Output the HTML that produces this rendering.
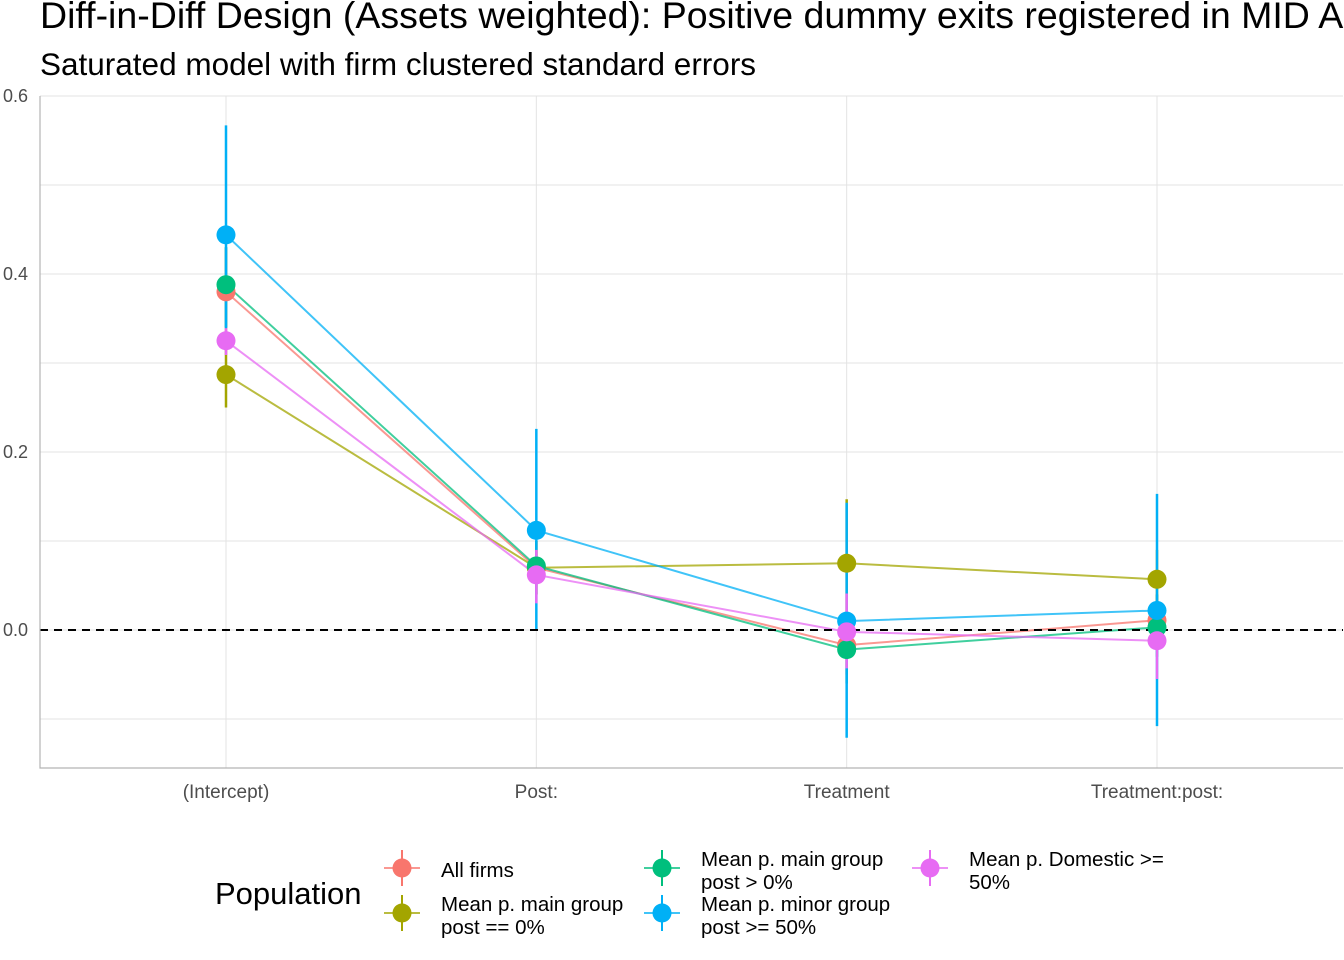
<!DOCTYPE html>
<html><head><meta charset="utf-8"><style>
body{margin:0;background:#fff;}
svg{display:block;font-family:"Liberation Sans",sans-serif;}
</style></head><body>
<svg id="chart" width="1344" height="960">
<text x="40" y="28" font-size="37.5" fill="#000">Diff-in-Diff Design (Assets weighted): Positive dummy exits registered in MID Ac</text>
<text x="40" y="75" font-size="31.5" fill="#000">Saturated model with firm clustered standard errors</text>
<g id="grid"></g>
<g id="marks"></g>
<g id="axes"></g>
<g id="legend">
<text x="215" y="904" font-size="31" fill="#000">Population</text>
</g>
</svg>
<script>
const categories = ["(Intercept)", "Post:", "Treatment", "Treatment:post:"];
const seriesNames = ["All firms", "Mean p. main group post == 0%", "Mean p. main group post > 0%", "Mean p. minor group post >= 50%", "Mean p. Domestic >= 50%"];
const seriesColors = ["#F8766D", "#A3A500", "#00BF7D", "#00B0F6", "#E76BF3"];
const estAll = [0.380, 0.070, -0.017, 0.011];
const estMain0 = [0.287, 0.070, 0.075, 0.057];
const estMainPos = [0.388, 0.072, -0.022, 0.003];
const estMinor = [0.444, 0.112, 0.010, 0.022];
const estDom = [0.325, 0.062, -0.002, -0.012];
const lowAll = [0.33, 0.04, -0.05, -0.02];
const highAll = [0.43, 0.10, 0.02, 0.04];
const lowMain0 = [0.250, 0.04, 0.00, 0.02];
const highMain0 = [0.320, 0.10, 0.147, 0.09];
const lowMainPos = [0.34, 0.04, -0.06, -0.03];
const highMainPos = [0.43, 0.10, 0.02, 0.04];
const lowMinor = [0.339, 0.000, -0.121, -0.108];
const highMinor = [0.567, 0.226, 0.143, 0.153];
const lowDom = [0.309, 0.03, -0.043, -0.055];
const highDom = [0.339, 0.09, 0.041, 0.030];
const yTicks = [0.0, 0.2, 0.4, 0.6];
const yTickLabels = ["0.0", "0.2", "0.4", "0.6"];

const est=[estAll,estMain0,estMainPos,estMinor,estDom];
const low=[lowAll,lowMain0,lowMainPos,lowMinor,lowDom];
const high=[highAll,highMain0,highMainPos,highMinor,highDom];
const L=40,R=1343,T=96,B=768;
const yMin=-0.155,yMax=0.6;
const y=v=>B-(v-yMin)/(yMax-yMin)*(B-T);
const x=i=>226+i*(1157-226)/(categories.length-1);
const NS="http://www.w3.org/2000/svg";
function mk(p,t,a){const e=document.createElementNS(NS,t);for(const k in a)e.setAttribute(k,a[k]);p.appendChild(e);return e;}
const grid=document.getElementById('grid'),marks=document.getElementById('marks'),axes=document.getElementById('axes'),legend=document.getElementById('legend');
for(let v=-0.1;v<=0.6;v+=0.1){const g=mk(grid,'line',{x1:L,x2:R,y1:y(v),y2:y(v),stroke:'#e3e3e3','stroke-width':1});

}
categories.forEach((c,i)=>{const g=mk(grid,'line',{x1:x(i),x2:x(i),y1:T,y2:B,stroke:'#e3e3e3','stroke-width':1});


const t=mk(axes,'text',{x:x(i),y:798,'font-size':19,fill:'#4d4d4d','text-anchor':'middle'});t.textContent=c;

});
yTicks.forEach((v,i)=>{const t=mk(axes,'text',{x:28,y:y(v)+6,'font-size':18,fill:'#4d4d4d','text-anchor':'end'});t.textContent=yTickLabels[i];

});
const ax=mk(axes,'path',{d:`M${L} ${T}V${B}H${R}`,fill:'none',stroke:'#b3b3b3','stroke-width':1.2});


est.forEach((s,k)=>{s.forEach((v,i)=>{const e=mk(marks,'line',{x1:x(i),x2:x(i),y1:y(low[k][i]),y2:y(high[k][i]),stroke:seriesColors[k],'stroke-width':2.5});

});});
est.forEach((s,k)=>{const p=mk(marks,'polyline',{points:s.map((v,i)=>x(i)+','+y(v)).join(' '),fill:'none',stroke:seriesColors[k],'stroke-width':2,'stroke-opacity':0.75});

});
const z=mk(marks,'line',{x1:L,x2:R,y1:y(0),y2:y(0),stroke:'#000','stroke-width':2,'stroke-dasharray':'8,6'});


est.forEach((s,k)=>{s.forEach((v,i)=>{const c=mk(marks,'circle',{cx:x(i),cy:y(v),r:9.5,fill:seriesColors[k]});

});});
const keyPos=[[402,868],[402,913],[662,868],[662,913],[930,868]];
const labelLines=[["All firms"],["Mean p. main group","post == 0%"],["Mean p. main group","post > 0%"],["Mean p. minor group","post >= 50%"],["Mean p. Domestic >=","50%"]];
seriesNames.forEach((n,k)=>{const [cx,cy]=keyPos[k];
const g=mk(legend,'g',{});


mk(g,'line',{x1:cx-18,x2:cx+18,y1:cy,y2:cy,stroke:seriesColors[k],'stroke-width':2,'stroke-opacity':0.75});
mk(g,'line',{x1:cx,x2:cx,y1:cy-18,y2:cy+18,stroke:seriesColors[k],'stroke-width':2});
mk(g,'circle',{cx:cx,cy:cy,r:9.5,fill:seriesColors[k]});
const lines=labelLines[k];
lines.forEach((l,j)=>{const t=mk(g,'text',{x:cx+39,y:(lines.length==1?cy+9:cy-2+j*23),'font-size':20.5,fill:'#000'});t.textContent=l;});});
</script>
</body></html>
